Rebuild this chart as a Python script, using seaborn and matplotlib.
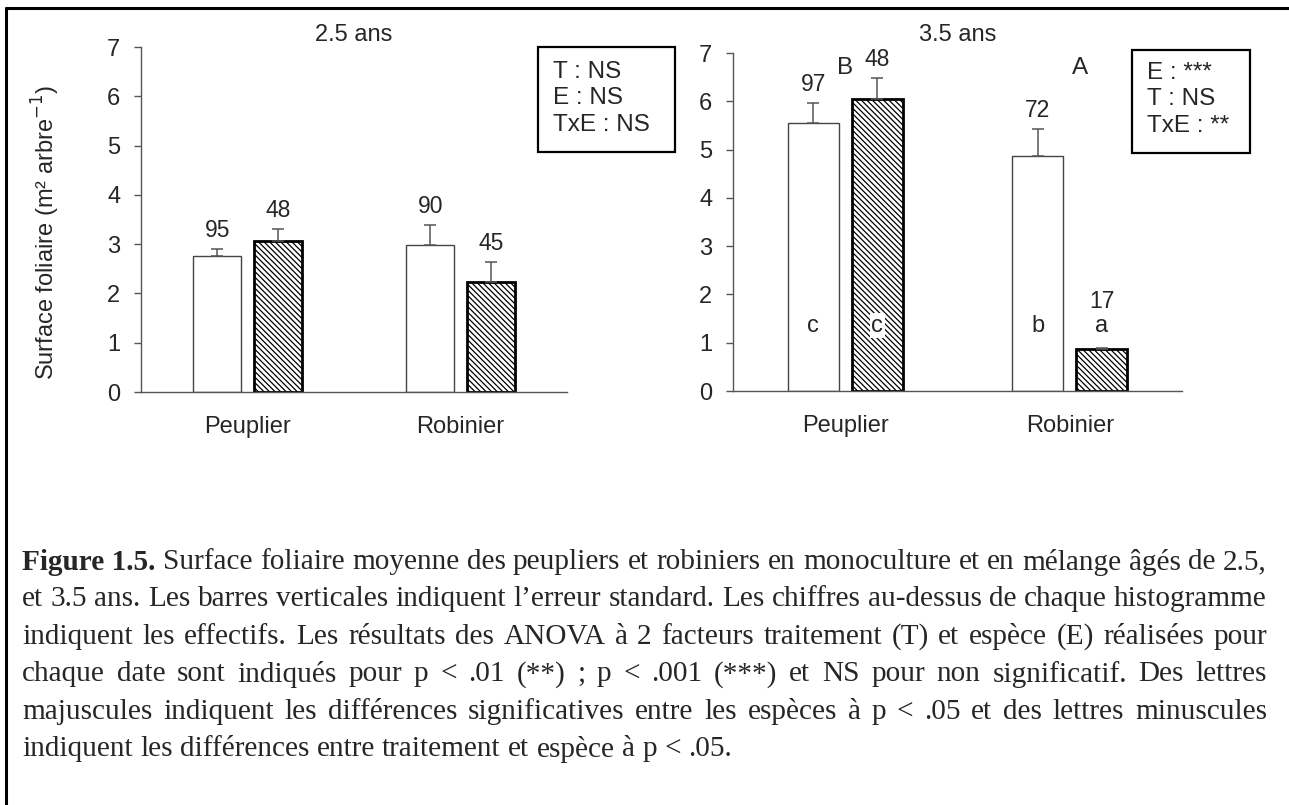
import numpy as np
import pandas as pd
import matplotlib.pyplot as plt
import seaborn as sns
from matplotlib.lines import Line2D
from matplotlib.patches import Rectangle

# données
especes = ['Peuplier', 'Robinier']
traitements = ['Monoculture', 'Mélange']

moy_25_mono = [2.75, 2.99]
moy_25_mel = [3.07, 2.23]
se_25_mono = [0.15, 0.40]
se_25_mel = [0.23, 0.41]
n_25_mono = [95, 90]
n_25_mel = [48, 45]

moy_35_mono = [5.56, 4.87]
moy_35_mel = [6.05, 0.87]
se_35_mono = [0.41, 0.56]
se_35_mel = [0.43, 0.02]
n_35_mono = [97, 72]
n_35_mel = [48, 17]
lettres_35_mono = ['c', 'b']
lettres_35_mel = ['c', 'a']
majuscules_35 = ['B', 'A']

anova_25 = 'T : NS\nE : NS\nTxE : NS'
anova_35 = 'E : ***\nT : NS\nTxE : **'

lignes_legende = [
    "Surface foliaire moyenne des peupliers et robiniers en monoculture et en mélange âgés de 2.5,",
    "et 3.5 ans. Les barres verticales indiquent l’erreur standard. Les chiffres au-dessus de chaque histogramme",
    "indiquent les effectifs. Les résultats des ANOVA à 2 facteurs traitement (T) et espèce (E) réalisées pour",
    "chaque date sont indiqués pour p < .01 (**) ; p < .001 (***) et NS pour non significatif. Des lettres",
    "majuscules indiquent les différences significatives entre les espèces à p < .05 et des lettres minuscules",
    "indiquent les différences entre traitement et espèce à p < .05.",
]

sns.set_style('ticks')
plt.rcParams['font.family'] = ['Liberation Sans', 'DejaVu Sans']
plt.rcParams['hatch.linewidth'] = 0.9

W, H = 1289, 805
fig = plt.figure(figsize=(W / 100, H / 100), dpi=100)


def px_axes(x0, x1, ytop, ybot):
    return fig.add_axes([x0 / W, 1 - ybot / H, (x1 - x0) / W, (ybot - ytop) / H])


def boite(x0, x1, ytop, ybot, texte, xt, yt):
    fig.add_artist(Rectangle((x0 / W, 1 - ybot / H), (x1 - x0) / W, (ybot - ytop) / H,
                             transform=fig.transFigure, facecolor='white', edgecolor='black',
                             linewidth=1.6, zorder=5))
    fig.text(xt / W, 1 - yt / H, texte, ha='left', va='top', fontsize=17.5,
             linespacing=1.26, zorder=6)


def panneau(ax, mono, mel, se_mono, se_mel, n_mono, n_mel, lettres=None):
    df = pd.DataFrame({
        'espece': especes * 2,
        'traitement': [traitements[0]] * 2 + [traitements[1]] * 2,
        'surface': mono + mel,
    })
    sns.barplot(data=df, x='espece', y='surface', hue='traitement', order=especes,
                hue_order=traitements, palette=['white', 'white'], width=0.57, gap=0.21,
                errorbar=None, legend=False, ax=ax)
    for i, cont in enumerate(ax.containers):
        for p in cont.patches:
            if i == 0:
                p.set_edgecolor('#444444')
                p.set_linewidth(1.0)
            else:
                p.set_edgecolor('black')
                p.set_linewidth(2.0)
                p.set_hatch('\\\\\\\\\\\\')
    if lettres is None:
        lettres = [[None, None], [None, None]]
    for cont, moy, se, n, let in zip(ax.containers, [mono, mel], [se_mono, se_mel],
                                     [n_mono, n_mel], lettres):
        x = [p.get_x() + p.get_width() / 2 for p in cont.patches]
        ax.errorbar(x, moy, yerr=[np.zeros(len(se)), se], fmt='none', ecolor='#555555',
                    elinewidth=1.1, capsize=4.5, capthick=1.1, zorder=3)
        for xi, m, s, ni, l in zip(x, moy, se, n, let):
            yn = m + s + 0.38
            if l is not None:
                yl = 1.35
                if m + s > 1.1:
                    ax.text(xi, yl, l, ha='center', va='center', fontsize=17, zorder=4,
                            bbox=dict(facecolor='white', edgecolor='none', pad=1.0))
                else:
                    ax.text(xi, yl, l, ha='center', va='center', fontsize=17, zorder=4)
                    yn = yl + 0.5
            ax.text(xi, yn, str(ni), ha='center', va='center', fontsize=16.5)
    ax.set_xlim(-0.5, 1.5)
    ax.set_ylim(0, 7)
    ax.set_yticks(range(8))
    ax.set_xlabel('')
    ax.set_ylabel('')
    sns.despine(ax=ax)
    for s in ['left', 'bottom']:
        ax.spines[s].set_color('#555555')
        ax.spines[s].set_linewidth(1.0)
    ax.tick_params(axis='y', length=5, width=1, color='#555555', labelsize=17, pad=10)
    ax.tick_params(axis='x', length=0, labelsize=17, pad=17)


ax1 = px_axes(141, 567, 47, 392)
panneau(ax1, moy_25_mono, moy_25_mel, se_25_mono, se_25_mel, n_25_mono, n_25_mel)
ax1.set_ylabel('Surface foliaire (m² arbre$^{-1}$)', fontsize=17)
ax1.yaxis.set_label_coords(-(141 - 62) / (567 - 141), 0.462)
ax1.text(0.5, 7.24, '2.5 ans', ha='center', va='center', fontsize=17, clip_on=False)

ax2 = px_axes(733, 1182, 53, 391)
panneau(ax2, moy_35_mono, moy_35_mel, se_35_mono, se_35_mel, n_35_mono, n_35_mel,
        lettres=[lettres_35_mono, lettres_35_mel])
ax2.text(0.5, 7.37, '3.5 ans', ha='center', va='center', fontsize=17, clip_on=False)
for i, l in enumerate(majuscules_35):
    ax2.text(i + 0.045 * i, 6.68, l, ha='center', va='center', fontsize=17.5)

# boîtes ANOVA
boite(538, 675, 47, 152, anova_25, 553, 61)
boite(1132, 1250, 50, 153, anova_35, 1147, 62)

# cadre (haut et gauche)
fig.add_artist(Line2D([6 / W, 1], [1 - 8 / H, 1 - 8 / H], color='black', linewidth=2.2))
fig.add_artist(Line2D([6 / W, 6 / W], [1 - 8 / H, 0], color='black', linewidth=2.2))

# légende justifiée
serif = ['Liberation Serif', 'DejaVu Serif']
x_g, x_d = 22, 1267
y0, dy = 562, 37.4
renderer = fig.canvas.get_renderer()
essai = fig.text(0, 0, lignes_legende[1], fontsize=16, family=serif)
taille = 16 * (x_d - x_g) / essai.get_window_extent(renderer).width
essai.remove()
for k, ligne in enumerate(lignes_legende):
    mots = ligne.split(' ')
    if k == 0:
        mots = ['Figure 1.5.'] + mots
    objets = []
    for j, m in enumerate(mots):
        t = fig.text(0, 1 - (y0 + k * dy) / H, m, fontsize=taille, family=serif,
                     fontweight='bold' if (k == 0 and j == 0) else 'normal', va='center', ha='left')
        objets.append(t)
    larg = [t.get_window_extent(renderer).width for t in objets]
    if k < len(lignes_legende) - 1:
        esp = (x_d - x_g - sum(larg)) / (len(mots) - 1)
    else:
        esp = taille * 0.25 * 100 / 72
    x = x_g
    for t, w in zip(objets, larg):
        t.set_x(x / W)
        x += w + esp

fig.savefig('out.png', dpi=100)
